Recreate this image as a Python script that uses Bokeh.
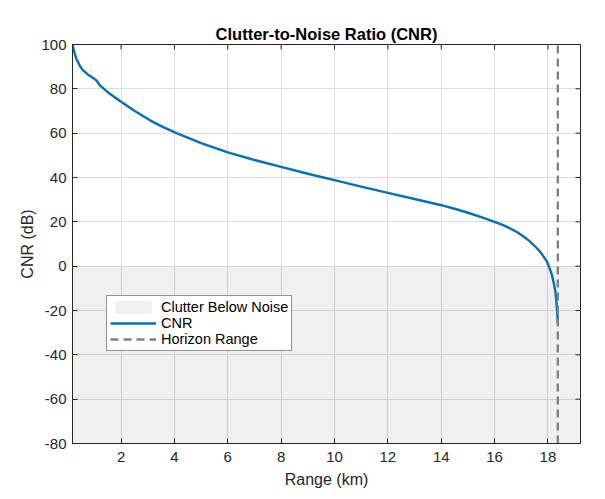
import math
from bokeh.plotting import figure
from bokeh.models import Range1d, Legend, LegendItem, FixedTicker
from bokeh.embed import file_html
from bokeh.resources import INLINE

# ---- data ----
range_km = [0.18, 0.25, 0.32, 0.45, 0.57, 0.75, 0.9, 1.07, 1.2, 1.5, 2.0, 2.5,
            3.07, 3.5, 4.08, 5.0, 6.0, 7.0, 8.0, 9.0, 10.0, 11.0, 12.0, 13.0,
            14.0, 14.5, 15.0, 15.5, 16.0, 16.3, 16.6, 16.85, 17.1, 17.3, 17.5,
            17.65, 17.8, 17.95, 18.06, 18.15, 18.22, 18.28, 18.31, 18.34,
            18.36, 18.37]
cnr_db = [100, 96.5, 93.7, 90.5, 88.4, 86.5, 85.3, 83.9, 81.7, 78.5, 74.2, 70.1,
          65.9, 63.2, 60.0, 55.5, 51.3, 47.9, 44.8, 41.7, 38.8, 35.9, 33.1, 30.3,
          27.5, 25.9, 24.1, 22.1, 20.0, 18.6, 16.9, 15.3, 13.3, 11.4, 9.1,
          7.3, 5.0, 2.3, -0.9, -4.0, -7.7, -11.5, -15.2, -20.0,
          -23.0, -25.6]
horizon_km = 18.37
x_limits = [0.18, 19.22]
y_limits = [-80, 100]
noise_floor_db = 0
x_ticks = [2, 4, 6, 8, 10, 12, 14, 16, 18]
y_ticks = [-80, -60, -40, -20, 0, 20, 40, 60, 80, 100]

FONT = "Liberation Sans"
AX = "#262626"

p = figure(width=594, height=490, output_backend="svg", toolbar_location=None,
           x_range=Range1d(*x_limits), y_range=Range1d(*y_limits),
           min_border_left=72, min_border_right=14, min_border_top=44,
           min_border_bottom=46)

p.title.text = "Clutter-to-Noise Ratio (CNR)"
p.title.align = "center"
p.title.text_font = FONT
p.title.text_font_size = "16.5px"
p.title.text_font_style = "bold"
p.title.text_color = "#000000"
p.title.standoff = 4

p.outline_line_color = AX
p.outline_line_width = 1

# shaded region below noise
r_area = p.varea(x=x_limits, y1=[y_limits[0]] * 2, y2=[noise_floor_db] * 2,
                 fill_color="#000000", fill_alpha=0.06)
r_cnr = p.line(range_km, cnr_db, line_color="#0072BD", line_width=2.4,
               line_join="round")
r_hor = p.line([horizon_km, horizon_km], y_limits, line_color="#808080",
               line_width=2.4, line_dash="8 5")

for ax in (p.xaxis[0], p.yaxis[0]):
    ax.axis_line_color = AX
    ax.major_tick_line_color = AX
    ax.major_tick_in = 5
    ax.major_tick_out = 0
    ax.minor_tick_line_color = None
    ax.major_label_text_font = FONT
    ax.major_label_text_font_size = "15px"
    ax.major_label_text_color = AX
    ax.axis_label_text_font = FONT
    ax.axis_label_text_font_size = "16px"
    ax.axis_label_text_font_style = "normal"
    ax.axis_label_text_color = AX

p.xaxis.ticker = FixedTicker(ticks=x_ticks)
p.yaxis.ticker = FixedTicker(ticks=y_ticks)
p.yaxis.major_label_overrides = {t: str(t) for t in y_ticks}
p.xaxis.major_label_overrides = {t: str(t) for t in x_ticks}
p.xaxis.axis_label = "Range (km)"
p.yaxis.axis_label = "CNR (dB)"
p.xaxis.major_label_standoff = 8
p.yaxis.major_label_standoff = 6
p.xaxis.axis_label_standoff = 6
p.yaxis.axis_label_standoff = 2

# mirrored inward ticks on top and right edges of the box
p.ray(x=x_ticks, y=[y_limits[1]] * len(x_ticks), length=5, length_units="screen",
      angle=-math.pi / 2, line_color=AX, line_width=1)
p.ray(x=[x_limits[1]] * len(y_ticks), y=y_ticks, length=5, length_units="screen",
      angle=math.pi, line_color=AX, line_width=1)

p.grid.grid_line_color = "#dedede"
p.grid.grid_line_width = 1

legend = Legend(items=[LegendItem(label="Clutter Below Noise", renderers=[r_area]),
                       LegendItem(label="CNR", renderers=[r_cnr]),
                       LegendItem(label="Horizon Range", renderers=[r_hor])],
                location=(34, 92))
legend.label_text_font = FONT
legend.label_text_font_size = "14.5px"
legend.label_text_color = "#000000"
legend.border_line_color = AX
legend.border_line_width = 1
legend.background_fill_color = "#ffffff"
legend.background_fill_alpha = 1
legend.padding = 3
legend.spacing = 0
legend.margin = 0
legend.glyph_width = 46
legend.glyph_height = 16
legend.label_height = 16
legend.label_standoff = 5
p.add_layout(legend, "center")

open("out.html", "w").write(file_html(p, INLINE))
